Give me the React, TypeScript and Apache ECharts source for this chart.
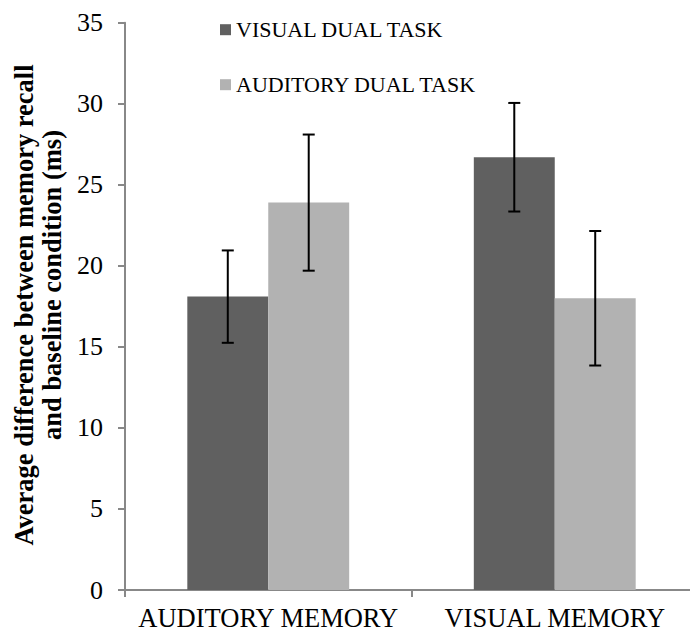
import React, { useEffect, useRef } from "react";
import * as echarts from "echarts";

const categories = ["AUDITORY MEMORY", "VISUAL MEMORY"];
const seriesNames = ["VISUAL DUAL TASK", "AUDITORY DUAL TASK"];
const visualDualMeans = [18.1, 26.7];
const visualDualErrors = [2.85, 3.35];
const auditoryDualMeans = [23.9, 18.0];
const auditoryDualErrors = [4.2, 4.15];
const yTicks = [0, 5, 10, 15, 20, 25, 30, 35];
const yTitleLines = ["Average difference between memory recall", "and baseline condition (ms)"];

const FONT = "Liberation Serif, serif";
const COLORS = ["#606060", "#b2b2b2"];
const CAT_GAP = 0.435;

export default function App() {
  const ref = useRef<HTMLDivElement>(null);

  useEffect(() => {
    if (!ref.current) return;
    const chart = echarts.init(ref.current, undefined, { renderer: "svg" });

    const means = [visualDualMeans, auditoryDualMeans];
    const errs = [visualDualErrors, auditoryDualErrors];
    const errorData: number[][] = [];
    categories.forEach((_, ci) => {
      [0, 1].forEach((si) => {
        errorData.push([ci, means[si][ci] - errs[si][ci], means[si][ci] + errs[si][ci], si]);
      });
    });

    const titleStyle = {
      fontFamily: FONT,
      fontSize: 26.5,
      fontWeight: "bold",
      fill: "#000",
      textAlign: "center",
      textVerticalAlign: "middle",
    };

    const option: any = {
      animation: false,
      backgroundColor: "#ffffff",
      textStyle: { fontFamily: FONT },
      grid: {
        left: 125,
        top: 22.7,
        height: 567.3,
        width: 573,
        containLabel: false,
        outerBoundsMode: "none",
      },
      legend: {
        orient: "vertical",
        left: 220,
        top: 18.7,
        padding: 0,
        itemWidth: 11,
        itemHeight: 11,
        itemGap: 33,
        icon: "rect",
        data: seriesNames,
        textStyle: { fontFamily: FONT, fontSize: 22, color: "#000", lineHeight: 22 },
      },
      graphic: [
        {
          type: "text",
          x: 24,
          y: 305,
          rotation: Math.PI / 2,
          style: { ...titleStyle, text: yTitleLines[0] },
        },
        {
          type: "text",
          x: 52,
          y: 285,
          rotation: Math.PI / 2,
          style: { ...titleStyle, text: yTitleLines[1] },
        },
      ],
      xAxis: {
        type: "category",
        data: categories,
        axisLine: { lineStyle: { color: "#888888", width: 2 } },
        axisTick: { show: true, length: 7, lineStyle: { color: "#888888", width: 2 } },
        axisLabel: { fontFamily: FONT, fontSize: 26.5, color: "#000", margin: 14, interval: 0 },
      },
      yAxis: {
        type: "value",
        min: 0,
        max: 35,
        interval: 5,
        axisLine: { show: true, lineStyle: { color: "#888888", width: 2 } },
        axisTick: { show: true, length: 7, lineStyle: { color: "#888888", width: 2 } },
        splitLine: { show: false },
        axisLabel: {
          fontFamily: FONT,
          fontSize: 26,
          color: "#000",
          margin: 22,
          formatter: (v: number) => (yTicks.includes(v) ? String(v) : ""),
        },
      },
      series: [
        {
          name: seriesNames[0],
          type: "bar",
          data: visualDualMeans,
          barGap: "0%",
          barCategoryGap: CAT_GAP * 100 + "%",
          itemStyle: { color: COLORS[0] },
        },
        {
          name: seriesNames[1],
          type: "bar",
          data: auditoryDualMeans,
          barGap: "0%",
          barCategoryGap: CAT_GAP * 100 + "%",
          itemStyle: { color: COLORS[1] },
        },
        {
          type: "custom",
          name: "error",
          data: errorData,
          z: 10,
          encode: { x: 0, y: [1, 2] },
          renderItem: (params: any, api: any) => {
            const ci = api.value(0);
            const lo = api.value(1);
            const hi = api.value(2);
            const si = api.value(3);
            const catW = api.size([1, 0])[0];
            const barW = (catW * (1 - CAT_GAP)) / 2;
            const pLo = api.coord([ci, lo]);
            const pHi = api.coord([ci, hi]);
            const x = pLo[0] + (si === 0 ? -barW / 2 : barW / 2);
            const cap = 6;
            const style = { stroke: "#000", lineWidth: 2 };
            return {
              type: "group",
              children: [
                { type: "line", shape: { x1: x, y1: pLo[1], x2: x, y2: pHi[1] }, style },
                { type: "line", shape: { x1: x - cap, y1: pHi[1], x2: x + cap, y2: pHi[1] }, style },
                { type: "line", shape: { x1: x - cap, y1: pLo[1], x2: x + cap, y2: pLo[1] }, style },
              ],
            };
          },
        },
      ],
    };

    chart.setOption(option);
    return () => chart.dispose();
  }, []);

  return <div ref={ref} style={{ width: 690, height: 636, position: "absolute", left: 0, top: 0 }} />;
}
